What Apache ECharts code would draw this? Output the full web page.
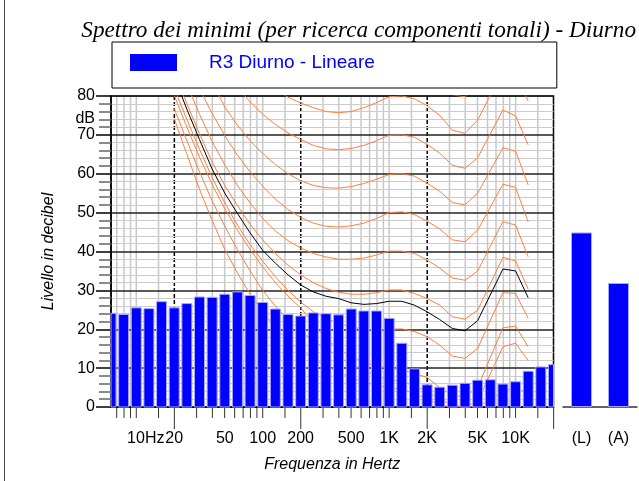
<!DOCTYPE html>
<html>
<head>
<meta charset="utf-8">
<script src="https://cdn.jsdelivr.net/npm/echarts@6/dist/echarts.min.js"></script>
<style>
  html, body { margin: 0; padding: 0; background: #fff; }
  #chart { width: 639px; height: 481px; }
</style>
</head>
<body>
<div id="chart"></div>
<script>
const titleText = 'Spettro dei minimi (per ricerca componenti tonali) - Diurno';
const seriesName = 'R3 Diurno - Lineare';

// bande in terzi d'ottava 6.3 Hz .. 20 kHz
const bands = ['6.3', '8', '10', '12.5', '16', '20', '25', '31.5', '40', '50', '63', '80',
  '100', '125', '160', '200', '250', '315', '400', '500', '630', '800', '1k', '1.25k',
  '1.6k', '2k', '2.5k', '3.15k', '4k', '5k', '6.3k', '8k', '10k', '12.5k', '16k', '20k'];
const spectrum = [24.1, 23.8, 25.5, 25.3, 27.1, 25.5, 26.6, 28.3, 28.2, 29.0, 29.6, 28.7,
  26.9, 25.2, 23.8, 23.4, 24.2, 24.0, 23.7, 25.2, 24.7, 24.7, 22.8, 16.4,
  9.8, 5.7, 5.1, 5.6, 6.1, 6.9, 7.0, 5.9, 6.5, 9.2, 10.3, 10.9];
const bandLabels = {'10': '10Hz', '20': '20', '50': '50', '100': '100', '200': '200', '500': '500',
  '1k': '1K', '2k': '2K', '5k': '5K', '10k': '10K'};

// livelli globali
const globalCats = ['(L)', '(A)'];
const globalValues = [44.9, 31.9];

// curve isofoniche, da 20 Hz a 12.5 kHz (null = tratto rettilineo)
const isoCurves = [
  [74.2, 65.0, 56.0, 48.0, 40.5, 34.5, 29.0, 24.5, 20.5, 17.0, 14.5, 12.5, 10.5, 9.0, 7.5, 6.5, 5.5, 5.0, 4.5, 3.5, 2.0, 0.5, 0.0, 0.0, 0.0, null, 4.0, 5.0, 3.5],
  [76.8, 68.5, 60.5, 53.0, 46.5, 40.5, 35.0, 30.0, 26.0, 22.5, 19.5, 17.0, 15.0, 13.0, 11.0, 9.5, 8.0, 7.0, 6.5, 5.5, 4.0, 2.0, 0.5, 0.0, 1.5, null, 15.5, 16.4, 11.9],
  [80.2, 72.0, 64.3, 57.2, 51.0, 45.5, 40.5, 36.0, 32.0, 28.5, 25.5, 21.5, 17.5, 15.0, 13.0, 11.5, 10.5, 10.0, 9.6, 8.6, 7.6, 5.0, 3.0, 2.6, 5.0, null, 20.4, 20.8, 15.5],
  [82.0, 74.0, 66.3, 59.0, 52.5, 46.8, 41.8, 37.5, 33.5, 30.0, 27.0, 24.5, 22.8, 21.5, 20.6, 20.0, 19.8, 20.0, 20.1, 19.4, 18.1, 15.9, 13.1, 12.5, 15.1, null, 29.4, 29.2, 22.8],
  [86.0, 78.0, 70.3, 63.0, 57.0, 51.8, 47.0, 43.0, 39.5, 36.5, 34.0, 32.0, 30.5, 29.5, 29.0, 29.0, 29.4, 30.1, 30.1, 29.2, 27.9, 26.2, 23.2, 22.6, 24.9, null, 38.5, 37.6, 30.3],
  [91.0, 83.0, 75.3, 68.3, 62.3, 57.0, 52.5, 48.5, 45.3, 42.8, 40.9, 39.5, 38.6, 38.0, 38.0, 38.3, 39.1, 40.1, 40.1, 39.5, 37.8, 35.7, 33.2, 32.6, 35.0, null, 47.7, 46.8, 38.6],
  [96.5, 89.0, 81.8, 75.5, 69.8, 64.8, 60.5, 56.8, 53.5, 50.8, 48.8, 47.3, 46.5, 46.3, 46.6, 47.3, 48.5, 50.0, 50.2, 49.5, 47.8, 45.8, 43.0, 42.5, 45.5, null, 57.3, 56.5, 47.6],
  [103.0, 96.0, 89.5, 83.3, 77.2, 72.5, 68.5, 65.2, 62.4, 60.0, 58.2, 57.0, 56.4, 56.3, 56.7, 57.5, 58.6, 59.8, 60.0, 59.4, 57.6, 55.5, 52.6, 52.0, 55.0, null, 66.7, 65.8, 57.1],
  [110.0, 103.5, 97.5, 92.0, 87.0, 82.2, 78.5, 75.3, 72.7, 70.5, 68.8, 67.3, 66.4, 66.2, 66.5, 67.3, 68.5, 69.9, 70.0, 69.4, 67.6, 65.3, 62.2, 61.4, 64.1, null, 76.4, 74.9, 67.4],
  [116.0, 110.0, 104.5, 99.5, 95.0, 91.0, 87.8, 85.0, 81.8, 79.7, 78.2, 77.0, 76.0, 75.7, 76.0, 77.0, 78.3, 79.8, 80.0, 79.3, 77.5, 75.0, 71.2, 70.4, 73.8, null, 86.5, 85.5, 78.7],
  [122.0, 117.0, 112.0, 108.0, 104.5, 101.0, 98.0, 95.5, 93.0, 91.0, 89.5, 88.0, 87.0, 86.5, 86.5, 87.0, 88.3, 89.8, 90.0, 89.3, 87.5, 84.5, 80.3, 79.8, 83.0, null, 95.0, 94.0, 88.0]
];
const refCurve = [84.9, 76.6, 68.8, 61.2, 55.0, 49.8, 44.8, 40.3, 37.0, 34.0, 31.4, 29.6, 28.5, 27.9, 26.8, 26.4, 26.6, 27.2, 27.2, 26.2, 24.5, 22.5, 20.2, 19.6, 22.2, null, 35.5, 35.0, 28.1];

// tacche dell'asse delle frequenze (Hz)
const minorTicks = [7, 8, 9, 10, 15, 30, 40, 50, 60, 70, 80, 90, 100, 150, 300, 400, 500, 600, 700, 800, 900,
  1000, 1500, 3000, 4000, 5000, 6000, 7000, 8000, 9000, 10000, 15000];
const majorTicks = [20, 200, 2000, 20000];

const fMin = Math.pow(10, 0.8);
const fMax = Math.pow(10, 4.3);

function padCurve(vals) {
  // le curve partono da 20 Hz (indice 5) e finiscono a 12.5 kHz
  return [null, null, null, null, null].concat(vals, [null, null]);
}

const sans = 'Liberation Sans';
const chart = echarts.init(document.getElementById('chart'));

const tickData = minorTicks.map(f => [f, 0]).concat(majorTicks.map(f => [f, 1]));

const series = [
  {
    type: 'custom',
    xAxisIndex: 1,
    yAxisIndex: 0,
    z: -1,
    silent: true,
    data: tickData,
    renderItem: function (params, api) {
      const f = api.value(0);
      const major = api.value(1) === 1;
      const bottom = api.coord([f, 0]);
      const top = api.coord([f, 80]);
      const children = [{
        type: 'line',
        shape: {x1: bottom[0], y1: bottom[1] + (major ? 22 : 11), x2: bottom[0], y2: bottom[1]},
        style: {stroke: '#333', lineWidth: 1}
      }];
      if (f < 19000) {
        children.push({
          type: 'line',
          shape: {x1: bottom[0], y1: top[1], x2: bottom[0], y2: bottom[1]},
          style: major ? {stroke: '#000', lineWidth: 1.5, lineDash: [4, 2]} : {stroke: '#c8c8c8', lineWidth: 1.5}
        });
      }
      return {type: 'group', children: children};
    }
  }
];

isoCurves.forEach((c, i) => {
  series.push({
    name: 'iso' + i,
    type: 'line',
    xAxisIndex: 0,
    yAxisIndex: 0,
    data: padCurve(c),
    connectNulls: true,
    showSymbol: false,
    silent: true,
    z: 3,
    lineStyle: {color: '#ff7f40', width: 1}
  });
});

series.push({
  name: 'rif',
  type: 'line',
  xAxisIndex: 0,
  yAxisIndex: 0,
  data: padCurve(refCurve),
  connectNulls: true,
  showSymbol: false,
  silent: true,
  z: 3,
  lineStyle: {color: '#000', width: 1}
});

// spettro: barre tagliate ai bordi del grafico (prima e ultima banda a metà)
series.push({
  name: seriesName,
  type: 'custom',
  xAxisIndex: 0,
  yAxisIndex: 0,
  z: 4,
  data: spectrum.map((v, i) => [i, v]),
  encode: {x: 0, y: 1},
  itemStyle: {color: '#0000ff', borderColor: '#a8a8ff', borderWidth: 1},
  renderItem: function (params, api) {
    const top = api.coord([api.value(0), api.value(1)]);
    const base = api.coord([api.value(0), 0]);
    const w = 10;
    const rect = echarts.graphic.clipRectByRect(
      {x: top[0] - w / 2, y: top[1], width: w, height: base[1] - top[1]},
      {x: params.coordSys.x, y: params.coordSys.y, width: params.coordSys.width, height: params.coordSys.height}
    );
    return rect && {type: 'rect', shape: rect, style: api.style()};
  }
});

series.push({
  name: 'Globali',
  type: 'bar',
  xAxisIndex: 2,
  yAxisIndex: 1,
  data: globalValues,
  barWidth: 21,
  z: 4,
  itemStyle: {color: '#0000ff', borderColor: '#a8a8ff', borderWidth: 1}
});

const option = {
  animation: false,
  backgroundColor: '#fff',
  title: {
    text: titleText,
    right: -2,
    top: 14,
    textStyle: {fontFamily: 'Liberation Serif', fontStyle: 'italic', fontWeight: 'normal', fontSize: 23.2, color: '#000'}
  },
  legend: {
    data: [seriesName],
    left: 112,
    top: 42,
    orient: 'horizontal',
    itemWidth: 47,
    itemHeight: 17,
    padding: [11, 182, 16, 18],
    borderColor: '#000',
    borderWidth: 1,
    backgroundColor: '#fff',
    selectedMode: false,
    icon: 'rect',
    itemStyle: {color: '#0000ff', borderWidth: 0},
    textStyle: {fontFamily: sans, fontSize: 19, color: '#0000ff', padding: [0, 0, 0, 27]}
  },
  grid: [
    {left: 111, top: 96, width: 442.5, height: 311, show: true, borderColor: '#000', borderWidth: 1.5, backgroundColor: 'transparent'},
    {left: 563, top: 96, width: 74, height: 311}
  ],
  xAxis: [
    {
      gridIndex: 0,
      type: 'category',
      data: bands,
      boundaryGap: false,
      axisLine: {show: true, lineStyle: {color: '#000', width: 1.5}},
      axisTick: {show: false},
      splitLine: {show: false},
      axisLabel: {
        interval: function (idx, val) { return bandLabels[val] !== undefined; },
        formatter: function (val) {
          const t = bandLabels[val];
          return val === '10' ? '{hz|' + t + '}' : t;
        },
        rich: {hz: {fontFamily: sans, fontSize: 16, color: '#000', padding: [0, 0, 0, 19]}},
        margin: 24,
        fontFamily: sans,
        fontSize: 16,
        color: '#000'
      },
      name: 'Frequenza in Hertz',
      nameLocation: 'middle',
      nameGap: 50,
      nameTextStyle: {fontFamily: sans, fontStyle: 'italic', fontSize: 16, color: '#000'}
    },
    {
      gridIndex: 0,
      type: 'log',
      min: fMin,
      max: fMax,
      show: false
    },
    {
      gridIndex: 1,
      type: 'category',
      data: globalCats,
      axisLine: {show: true, lineStyle: {color: '#333', width: 1.5}},
      axisTick: {show: false},
      axisLabel: {margin: 24, fontFamily: sans, fontSize: 16, color: '#000'}
    }
  ],
  yAxis: [
    {
      gridIndex: 0,
      type: 'value',
      min: 0,
      max: 80,
      interval: 10,
      axisLine: {show: true, lineStyle: {color: '#000', width: 1.5}},
      axisTick: {show: true, length: 15, lineStyle: {color: '#000', width: 1.5}},
      minorTick: {show: true, splitNumber: 5, length: 12, lineStyle: {color: '#666', width: 1.5}},
      splitLine: {show: true, lineStyle: {color: '#222', width: 1.5}},
      minorSplitLine: {show: true, lineStyle: {color: '#cccccc', width: 1}},
      axisLabel: {margin: 16, fontFamily: sans, fontSize: 16, color: '#000'},
      name: 'Livello in decibel',
      nameLocation: 'middle',
      nameGap: 54,
      nameRotate: 90,
      nameTextStyle: {fontFamily: sans, fontStyle: 'italic', fontSize: 16, color: '#000'}
    },
    {
      gridIndex: 1,
      type: 'value',
      min: 0,
      max: 80,
      show: false
    }
  ],
  graphic: [
    {type: 'line', shape: {x1: 4.5, y1: 0, x2: 4.5, y2: 481}, style: {stroke: '#444', lineWidth: 1}},
    {type: 'text', x: 95, y: 119, style: {text: 'dB', fontFamily: sans, fontSize: 16, fill: '#000', textAlign: 'right', textVerticalAlign: 'middle'}}
  ],
  series: series
};

chart.setOption(option);
</script>
</body>
</html>
